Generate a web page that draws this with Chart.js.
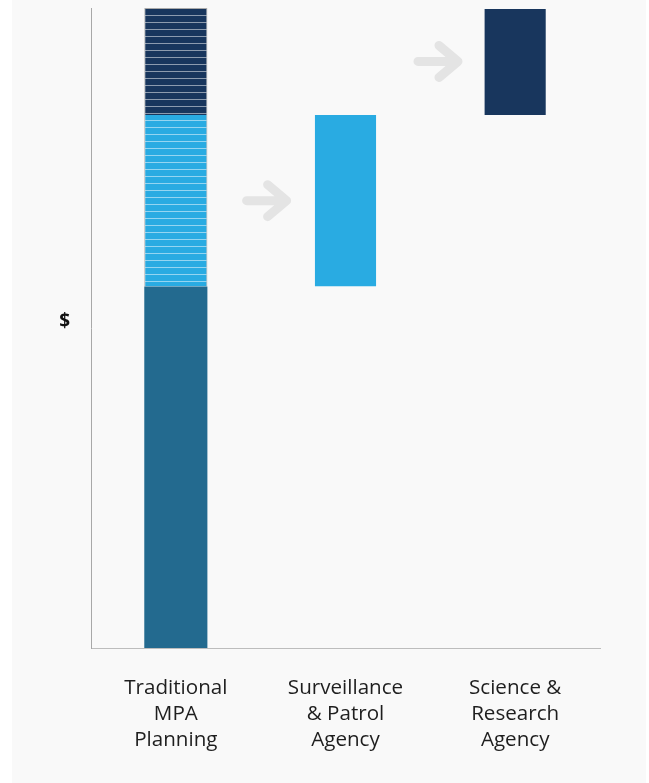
<!DOCTYPE html>
<html>
<head>
<meta charset="utf-8">
<script src="https://cdn.jsdelivr.net/npm/chart.js@4/dist/chart.umd.min.js"></script>
<style>
    html, body { margin: 0; padding: 0; background: #ffffff; }
    #wrap { width: 649px; height: 783px; }
</style>
</head>
<body>
<div id="wrap"><canvas id="costChart" width="649" height="783"></canvas></div>
<script>
const categories = [
    ["Traditional", "MPA", "Planning"],
    ["Surveillance", "& Patrol", "Agency"],
    ["Science &", "Research", "Agency"],
];

// cumulative cost levels (share of the traditional budget, %)
const coreTop = 56.5;
const surveillanceTop = 83.3;
const scienceTop = 100;

// which category carries each cost block
const coreShown = [true, false, false];
const surveillanceShown = [true, true, false];
const scienceShown = [true, false, true];

const yAxisLabel = "$";
const yAxisLabelAt = 51;

const COLORS = {
    core: "rgb(35, 106, 143)",
    surveillance: "rgb(41, 171, 226)",
    science: "rgb(24, 54, 93)",
    arrow: "#e4e4e4",
    panel: "#f9f9f9",
};

// horizontal pinstripe fill for the bundled (traditional) blocks
const stripes = (color) => {
    const c = document.createElement("canvas");
    c.width = 8;
    c.height = 7;
    const ctx = c.getContext("2d");
    ctx.fillStyle = color;
    ctx.fillRect(0, 0, 8, 7);
    ctx.fillStyle = "rgba(255, 255, 255, 0.5)";
    ctx.fillRect(0, 1, 8, 1);
    return ctx.createPattern(c, "repeat");
};

const range = (shown, low, high) => shown.map((s) => (s ? [low, high] : null));

const panelPlugin = {
    id: "panel",
    beforeDraw(chart) {
        const ctx = chart.ctx;
        ctx.save();
        ctx.fillStyle = COLORS.panel;
        ctx.fillRect(12, 0, 634, chart.height);
        ctx.restore();
    },
};

// grey arrows pointing from one budget to the next
const arrowPlugin = {
    id: "arrows",
    afterDatasetsDraw(chart) {
        const { ctx, scales } = chart;
        const targets = [
            (coreTop + surveillanceTop) / 2,
            (surveillanceTop + scienceTop) / 2,
        ];
        ctx.save();
        ctx.strokeStyle = COLORS.arrow;
        ctx.lineWidth = 9;
        ctx.lineCap = "round";
        ctx.lineJoin = "round";
        targets.forEach((v, i) => {
            const cx = scales.x.getPixelForValue(i + 0.535 + i * 0.01);
            const cy = scales.y.getPixelForValue(v);
            const tip = cx + 20;
            ctx.beginPath();
            ctx.moveTo(cx - 20, cy);
            ctx.lineTo(tip, cy);
            ctx.moveTo(tip - 19, cy - 16);
            ctx.lineTo(tip, cy);
            ctx.lineTo(tip - 19, cy + 16);
            ctx.stroke();
        });
        ctx.restore();
    },
};

const edge = "rgba(150, 150, 150, 0.8)";

const data = {
    labels: categories,
    datasets: [
        {
            label: "Core",
            data: range(coreShown, 0, coreTop),
            backgroundColor: COLORS.core,
        },
        {
            label: "Surveillance",
            data: range(surveillanceShown, coreTop, surveillanceTop),
            backgroundColor: [stripes(COLORS.surveillance), COLORS.surveillance, COLORS.surveillance],
            borderColor: [edge, "rgba(0,0,0,0)", "rgba(0,0,0,0)"],
            borderWidth: { left: 1, right: 1 },
            borderSkipped: false,
        },
        {
            label: "Science",
            data: range(scienceShown, surveillanceTop, scienceTop),
            backgroundColor: [stripes(COLORS.science), COLORS.science, COLORS.science],
            borderColor: [edge, "rgba(0,0,0,0)", "rgba(0,0,0,0)"],
            borderWidth: { left: 1, right: 1, top: 1 },
            borderSkipped: false,
        },
    ],
};

const config = {
    type: "bar",
    data: data,
    options: {
        responsive: false,
        devicePixelRatio: 1,
        animation: false,
        layout: {
            padding: { top: 8, right: 49, left: 0, bottom: 0 },
        },
        datasets: {
            bar: {
                grouped: false,
                categoryPercentage: 1,
                barPercentage: 0.372,
            },
        },
        plugins: {
            legend: { display: false },
            tooltip: { enabled: false },
        },
        scales: {
            x: {
                grid: { display: false, drawTicks: false },
                border: { display: true, color: "#bdbdbd", width: 1 },
                ticks: {
                    padding: 27,
                    color: "#1e1e1e",
                    maxRotation: 0,
                    autoSkip: false,
                    font: { family: "'Open Sans'", size: 20.6, lineHeight: 1.26 },
                },
                afterFit(scale) {
                    scale.height = 135;
                },
            },
            y: {
                min: 0,
                max: scienceTop,
                grid: { display: false, drawTicks: false },
                border: { display: true, color: "#a8a8a8", width: 1 },
                ticks: {
                    padding: 21,
                    color: "#111111",
                    font: { family: "'Open Sans'", size: 19, weight: "bold" },
                    callback: () => yAxisLabel,
                },
                afterBuildTicks(scale) {
                    scale.ticks = [{ value: yAxisLabelAt }];
                },
                afterFit(scale) {
                    scale.width = 91;
                    scale.paddingTop = 0;
                    scale.paddingBottom = 0;
                },
            },
        },
    },
    plugins: [panelPlugin, arrowPlugin],
};

new Chart(document.getElementById("costChart"), config);
</script>
</body>
</html>
